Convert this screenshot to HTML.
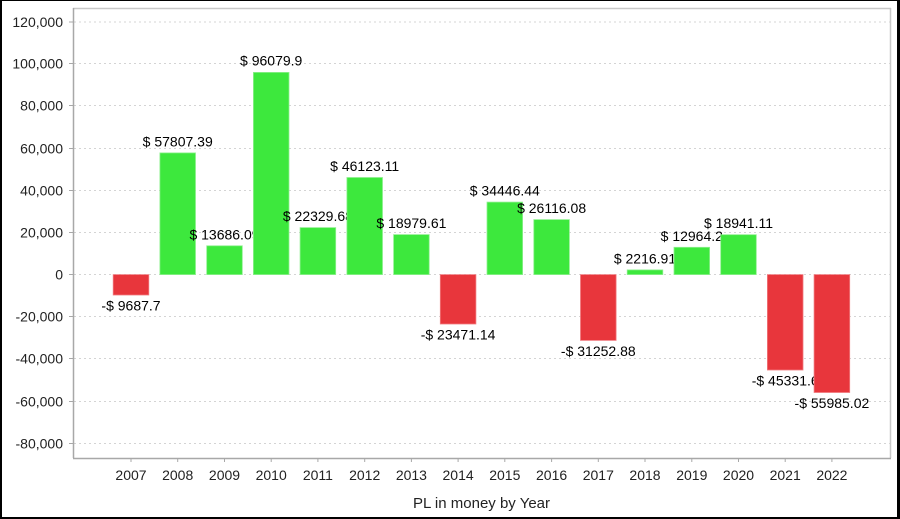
<!DOCTYPE html>
<html><head><meta charset="utf-8"><style>
html,body{margin:0;padding:0;background:#fff;}
svg{display:block;font-family:"Liberation Sans",Arial,sans-serif;}
</style></head><body>
<svg width="900" height="519" viewBox="0 0 900 519" xmlns="http://www.w3.org/2000/svg">
<rect x="0" y="0" width="900" height="519" fill="#fff"/>
<!-- outer border -->
<rect x="0" y="0" width="2" height="519" fill="#000"/>
<rect x="0" y="0" width="900" height="1" fill="#000"/>
<rect x="897" y="0" width="3" height="519" fill="#000"/>
<rect x="0" y="517" width="900" height="2" fill="#000"/>
<!-- plot outline -->
<line x1="73" y1="8.5" x2="891" y2="8.5" stroke="#c8c8c8" stroke-width="1.5"/>
<line x1="890.5" y1="8" x2="890.5" y2="458" stroke="#c8c8c8" stroke-width="1.5"/>
<!-- gridlines -->
<g stroke="#d4d4d4" stroke-width="1" stroke-dasharray="2,3">
<line x1="74" y1="22" x2="890" y2="22"/>
<line x1="74" y1="63.5" x2="890" y2="63.5"/>
<line x1="74" y1="105.5" x2="890" y2="105.5"/>
<line x1="74" y1="148.5" x2="890" y2="148.5"/>
<line x1="74" y1="190.5" x2="890" y2="190.5"/>
<line x1="74" y1="232.5" x2="890" y2="232.5"/>
<line x1="74" y1="274.5" x2="890" y2="274.5"/>
<line x1="74" y1="316.5" x2="890" y2="316.5"/>
<line x1="74" y1="358.5" x2="890" y2="358.5"/>
<line x1="74" y1="401.5" x2="890" y2="401.5"/>
<line x1="74" y1="443.5" x2="890" y2="443.5"/>
</g>
<!-- axes -->
<line x1="73.5" y1="8" x2="73.5" y2="458" stroke="#a8a8a8" stroke-width="1.5"/>
<line x1="73" y1="458.5" x2="891" y2="458.5" stroke="#a8a8a8" stroke-width="1.5"/>
<!-- y ticks -->
<g stroke="#a8a8a8" stroke-width="1">
<line x1="69" y1="22" x2="73" y2="22"/><line x1="69" y1="63.5" x2="73" y2="63.5"/>
<line x1="69" y1="105.5" x2="73" y2="105.5"/><line x1="69" y1="148.5" x2="73" y2="148.5"/>
<line x1="69" y1="190.5" x2="73" y2="190.5"/><line x1="69" y1="232.5" x2="73" y2="232.5"/>
<line x1="69" y1="274.5" x2="73" y2="274.5"/><line x1="69" y1="316.5" x2="73" y2="316.5"/>
<line x1="69" y1="358.5" x2="73" y2="358.5"/><line x1="69" y1="401.5" x2="73" y2="401.5"/>
<line x1="69" y1="443.5" x2="73" y2="443.5"/>
</g>
<g font-size="14" fill="#222" text-anchor="end">
<text x="63" y="27">120,000</text>
<text x="63" y="68.5">100,000</text>
<text x="63" y="110.5">80,000</text>
<text x="63" y="153.5">60,000</text>
<text x="63" y="195.5">40,000</text>
<text x="63" y="237.5">20,000</text>
<text x="63" y="279.5">0</text>
<text x="63" y="321.5">-20,000</text>
<text x="63" y="363.5">-40,000</text>
<text x="63" y="406.5">-60,000</text>
<text x="63" y="448.5">-80,000</text>
</g>
<!-- x ticks -->
<g stroke="#a8a8a8" stroke-width="1">
<line x1="131" y1="458" x2="131" y2="462"/><line x1="177.7" y1="458" x2="177.7" y2="462"/>
<line x1="224.5" y1="458" x2="224.5" y2="462"/><line x1="271.2" y1="458" x2="271.2" y2="462"/>
<line x1="317.9" y1="458" x2="317.9" y2="462"/><line x1="364.7" y1="458" x2="364.7" y2="462"/>
<line x1="411.4" y1="458" x2="411.4" y2="462"/><line x1="458.1" y1="458" x2="458.1" y2="462"/>
<line x1="504.8" y1="458" x2="504.8" y2="462"/><line x1="551.6" y1="458" x2="551.6" y2="462"/>
<line x1="598.3" y1="458" x2="598.3" y2="462"/><line x1="645" y1="458" x2="645" y2="462"/>
<line x1="691.8" y1="458" x2="691.8" y2="462"/><line x1="738.5" y1="458" x2="738.5" y2="462"/>
<line x1="785.2" y1="458" x2="785.2" y2="462"/><line x1="831.9" y1="458" x2="831.9" y2="462"/>
</g>
<g font-size="14" fill="#222" text-anchor="middle">
<text x="131" y="480">2007</text><text x="177.7" y="480">2008</text>
<text x="224.5" y="480">2009</text><text x="271.2" y="480">2010</text>
<text x="317.9" y="480">2011</text><text x="364.7" y="480">2012</text>
<text x="411.4" y="480">2013</text><text x="458.1" y="480">2014</text>
<text x="504.8" y="480">2015</text><text x="551.6" y="480">2016</text>
<text x="598.3" y="480">2017</text><text x="645" y="480">2018</text>
<text x="691.8" y="480">2019</text><text x="738.5" y="480">2020</text>
<text x="785.2" y="480">2021</text><text x="831.9" y="480">2022</text>
</g>
<text x="481.5" y="508" font-size="15" fill="#222" text-anchor="middle">PL in money by Year</text>
<!-- bars and labels in draw order -->
<g font-size="14" fill="#000" text-anchor="middle">
<rect x="113.2" y="274.6" width="35.6" height="20.4" fill="#e8363c" stroke="#f07a7e" stroke-width="0.8"/>
<text x="131" y="310.5">-$ 9687.7</text>
<rect x="159.9" y="152.9" width="35.6" height="121.7" fill="#3de83d" stroke="#8ef08e" stroke-width="0.8"/>
<text x="177.7" y="146.5">$ 57807.39</text>
<rect x="206.7" y="245.8" width="35.6" height="28.8" fill="#3de83d" stroke="#8ef08e" stroke-width="0.8"/>
<text x="224.5" y="239.3">$ 13686.09</text>
<rect x="253.4" y="72.4" width="35.6" height="202.2" fill="#3de83d" stroke="#8ef08e" stroke-width="0.8"/>
<text x="271.2" y="65.5">$ 96079.9</text>
<rect x="300.1" y="227.6" width="35.6" height="47" fill="#3de83d" stroke="#8ef08e" stroke-width="0.8"/>
<text x="317.9" y="221">$ 22329.68</text>
<rect x="346.9" y="177.5" width="35.6" height="97.1" fill="#3de83d" stroke="#8ef08e" stroke-width="0.8"/>
<text x="364.7" y="171">$ 46123.11</text>
<rect x="393.6" y="234.6" width="35.6" height="40" fill="#3de83d" stroke="#8ef08e" stroke-width="0.8"/>
<text x="411.4" y="228">$ 18979.61</text>
<rect x="440.3" y="274.6" width="35.6" height="49.4" fill="#e8363c" stroke="#f07a7e" stroke-width="0.8"/>
<text x="458.1" y="339.5">-$ 23471.14</text>
<rect x="487" y="202.1" width="35.6" height="72.5" fill="#3de83d" stroke="#8ef08e" stroke-width="0.8"/>
<text x="504.8" y="195.5">$ 34446.44</text>
<rect x="533.8" y="219.6" width="35.6" height="55" fill="#3de83d" stroke="#8ef08e" stroke-width="0.8"/>
<text x="551.6" y="213">$ 26116.08</text>
<rect x="580.5" y="274.6" width="35.6" height="65.8" fill="#e8363c" stroke="#f07a7e" stroke-width="0.8"/>
<text x="598.3" y="356">-$ 31252.88</text>
<rect x="627.2" y="269.9" width="35.6" height="4.7" fill="#3de83d" stroke="#8ef08e" stroke-width="0.8"/>
<text x="645" y="263.5">$ 2216.91</text>
<rect x="674" y="247.3" width="35.6" height="27.3" fill="#3de83d" stroke="#8ef08e" stroke-width="0.8"/>
<text x="691.8" y="240.8">$ 12964.2</text>
<rect x="720.7" y="234.7" width="35.6" height="39.9" fill="#3de83d" stroke="#8ef08e" stroke-width="0.8"/>
<text x="738.5" y="228">$ 18941.11</text>
<rect x="767.4" y="274.6" width="35.6" height="95.4" fill="#e8363c" stroke="#f07a7e" stroke-width="0.8"/>
<text x="785.2" y="385.5">-$ 45331.6</text>
<rect x="814.1" y="274.6" width="35.6" height="117.9" fill="#e8363c" stroke="#f07a7e" stroke-width="0.8"/>
<text x="831.9" y="408">-$ 55985.02</text>
</g>
</svg>
</body></html>
